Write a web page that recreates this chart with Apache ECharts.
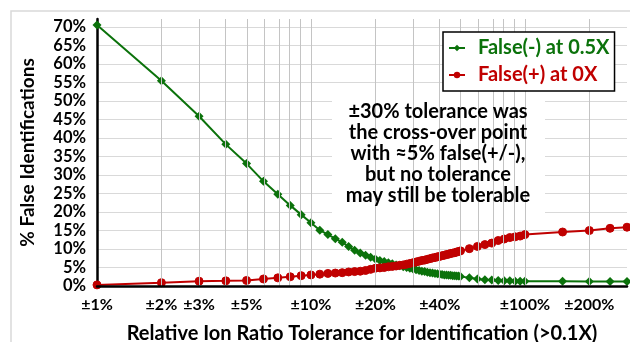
<!DOCTYPE html>
<html>
<head>
<meta charset="utf-8">
<script src="https://cdn.jsdelivr.net/npm/echarts@6/dist/echarts.min.js"></script>
<style>
html,body{margin:0;padding:0;background:#fff;}
#c{width:630px;height:342px;}
</style>
</head>
<body>
<div id="c"></div>
<script>
// Tolerance (%) values
var tolerance = [1,2,3,4,5,6,7,8,9,10,
  11,12,13,14,15,16,17,18,19,20,
  21,22,23,24,25,26,27,28,29,30,
  31,32,33,34,35,36,37,38,39,40,
  41,42,43,44,45,46,47,48,49,50,
  55,60,65,70,75,80,85,90,95,100,
  150,200,250,300];
// False(-) at 0.5X (%)
var falseNeg = [70.6,55.5,45.9,38.3,33.1,28.3,24.8,21.8,19.3,17.1,
  15.1,13.9,12.8,11.8,10.7,9.7,8.9,8.3,7.8,7.3,
  6.9,6.6,6.3,6.0,5.7,5.5,5.2,5.0,4.8,4.6,
  4.4,4.2,4.0,3.9,3.7,3.6,3.5,3.4,3.3,3.2,
  3.1,3.0,3.0,2.9,2.9,2.8,2.8,2.7,2.7,2.6,
  2.2,1.9,1.7,1.6,1.5,1.4,1.4,1.3,1.3,1.3,
  1.3,1.2,1.2,1.2];
// False(+) at 0X (%)
var falsePos = [0.3,0.9,1.3,1.4,1.5,1.9,2.2,2.5,2.8,3.0,
  3.2,3.4,3.5,3.6,3.8,3.9,4.0,4.2,4.5,4.8,
  4.9,5.0,5.2,5.3,5.4,5.6,5.7,5.9,6.1,6.3,
  6.5,6.7,6.9,7.0,7.2,7.4,7.6,7.7,7.9,8.0,
  8.2,8.3,8.5,8.6,8.8,8.9,9.0,9.2,9.3,9.5,
  10.1,10.7,11.2,11.6,12.3,12.7,13.1,13.3,13.5,13.9,
  14.6,15.0,15.6,15.9];
var xLabelValues = [1,2,3,5,10,20,40,100,200];
var xGridValues = [2,3,4,5,6,7,8,9,10,20,30,40,50,60,70,80,90,100,200,300];
var seriesNames = ['False(-) at 0.5X','False(+) at 0X'];
var noteLines = ['±30% tolerance was','the cross-over point','with ≈5% false(+/-),','but no tolerance','may still be tolerable'];
var xTitle = 'Relative Ion Ratio Tolerance for Identification (>0.1X)';
var yTitle = '% False Identifications';

var GREEN = '#0B720B', RED = '#C00000';
var FONT = 'Lato, "Open Sans", sans-serif';
var X_MIN = 1, X_MAX = 300, Y_MAX = 72.2;

function pairs(xs, ys){ return xs.map(function(x,i){ return [x, ys[i]]; }); }

var chart = echarts.init(document.getElementById('c'), null, {renderer:'canvas'});
chart.setOption({
  animation:false,
  backgroundColor:'#fff',
  textStyle:{fontFamily:FONT},
  grid:{left:97, right:3, top:19, bottom:56, containLabel:false, outerBoundsMode:'none'},
  xAxis:[{
    type:'log', logBase:10, min:X_MIN, max:X_MAX,
    name:xTitle, nameLocation:'middle', nameGap:38,
    nameTextStyle:{fontFamily:FONT, fontWeight:'bold', fontSize:20, color:'#000'},
    axisLine:{show:true, lineStyle:{color:'#000', width:2.5}},
    axisTick:{show:false},
    splitLine:{show:false},
    axisLabel:{
      customValues:xLabelValues,
      fontFamily:FONT, fontWeight:'bold', fontSize:16, color:'#000', margin:11,
      formatter:function(v){ return '±' + Math.round(v) + '%'; }
    },
    z:5
  }, {
    // hidden linear twin in log10 units, used only to place the vertical gridlines
    type:'value', min:Math.log10(X_MIN), max:Math.log10(X_MAX), show:false
  }],
  yAxis:{
    type:'value', min:0, max:Y_MAX, interval:5,
    name:yTitle, nameLocation:'middle', nameGap:60, nameRotate:90,
    nameTextStyle:{fontFamily:FONT, fontWeight:'bold', fontSize:19, color:'#000'},
    axisLine:{show:true, lineStyle:{color:'#000', width:2.5}},
    axisTick:{show:false},
    splitLine:{show:true, showMaxLine:false, lineStyle:{color:'#D9D9D9', width:1}},
    axisLabel:{fontFamily:FONT, fontWeight:'bold', fontSize:16.5, color:'#000', margin:11,
      showMaxLabel:false,
      formatter:function(v){ return v + '%'; }}
  },
  legend:{
    orient:'vertical', left:443, top:32,
    backgroundColor:'#fff', borderColor:'#000', borderWidth:1.5,
    padding:[6,5,6,5], itemGap:7, itemWidth:16, itemHeight:8,
    textStyle:{fontFamily:FONT, fontWeight:'bold', fontSize:20, padding:[0,0,0,8]},
    data:[
      {name:seriesNames[0], textStyle:{color:GREEN}},
      {name:seriesNames[1], textStyle:{color:RED}}
    ],
    z:10
  },
  graphic:[
    {type:'rect', shape:{x:11, y:11, width:640, height:360},
     style:{fill:'none', stroke:'#D9D9D9', lineWidth:1.5}, z:-1, silent:true},
    {type:'rect', shape:{x:332, y:100, width:213, height:113},
     style:{fill:'#fff'}, z:5, silent:true},
    {type:'text', x:438, y:101, z:6, silent:true,
     style:{text:noteLines.join('\n'), fill:'#000', font:'bold 20px ' + FONT,
       textAlign:'center', textVerticalAlign:'top', lineHeight:21}}
  ],
  series:[
    {type:'scatter', name:'vgrid', silent:true, z:1,
     xAxisIndex:1, yAxisIndex:0, symbolSize:0,
     data:xGridValues.map(function(v){ return [Math.log10(v), 1]; }),
     markLine:{silent:true, symbol:['none','none'], animation:false,
       label:{show:false}, emphasis:{disabled:true},
       lineStyle:{color:'#C4C4C4', width:1, type:'solid', opacity:1},
       data:xGridValues.map(function(v){ return {xAxis:Math.log10(v)}; })}},
    {type:'line', name:seriesNames[0], data:pairs(tolerance, falseNeg),
     symbol:'diamond', symbolSize:9, showAllSymbol:true,
     lineStyle:{color:GREEN, width:2}, itemStyle:{color:GREEN}, z:3},
    {type:'line', name:seriesNames[1], data:pairs(tolerance, falsePos),
     symbol:'circle', symbolSize:8, showAllSymbol:true,
     lineStyle:{color:RED, width:2}, itemStyle:{color:RED, borderColor:RED}, z:4}
  ]
});
</script>
</body>
</html>
